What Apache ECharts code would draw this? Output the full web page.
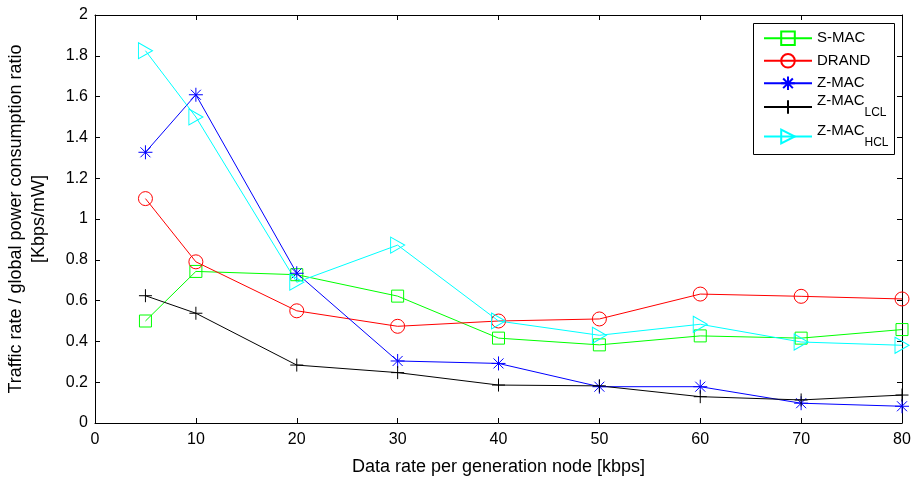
<!DOCTYPE html>
<html>
<head>
<meta charset="utf-8">
<script src="https://cdn.jsdelivr.net/npm/echarts@6/dist/echarts.min.js"></script>
<style>
  html, body { margin: 0; padding: 0; background: #fff; }
  #chart { width: 916px; height: 477px; }
</style>
</head>
<body>
<div id="chart"></div>
<script>
// Data rate per generation node [kbps]
const rates = [5, 10, 20, 30, 40, 50, 60, 70, 80];

// Traffic rate / global power consumption ratio [Kbps/mW]
const sMac    = [0.50, 0.743, 0.727, 0.622, 0.416, 0.383, 0.427, 0.416, 0.458];
const drand   = [1.10, 0.790, 0.550, 0.474, 0.500, 0.510, 0.632, 0.621, 0.608];
const zMac    = [1.327, 1.609, 0.734, 0.304, 0.292, 0.178, 0.178, 0.097, 0.082];
const zMacLcl = [0.624, 0.538, 0.284, 0.247, 0.186, 0.182, 0.129, 0.113, 0.137];
const zMacHcl = [1.825, 1.500, 0.690, 0.872, 0.500, 0.430, 0.484, 0.397, 0.381];

const seriesNames = ['S-MAC', 'DRAND', 'Z-MAC', 'Z-MAC LCL', 'Z-MAC HCL'];
const xTicks = [0, 10, 20, 30, 40, 50, 60, 70, 80];

const FONT = '"Liberation Sans", Arial, sans-serif';

function pairs(values) {
  return rates.map((r, i) => [r, values[i]]);
}

function lineSeries(name, values, color, symbol, size) {
  return {
    name: name,
    type: 'line',
    data: pairs(values),
    symbol: symbol,
    symbolSize: size,
    showAllSymbol: true,
    lineStyle: { color: color, width: 1 },
    itemStyle: { color: 'none', borderColor: color, borderWidth: 1 },
    emphasis: { disabled: true },
    animation: false,
    z: 3
  };
}

const asteriskPath = 'path://M7 0 L7 14 M0 7 L14 7 M2 2 L12 12 M12 2 L2 12';
const plusPath = 'path://M6 0 L6 12 M0 6 L12 6';
const rightTriPath = 'path://M0 0 L13 8 L0 16 Z';

const series = [
  lineSeries(seriesNames[0], sMac, '#00ff00', 'rect', 12),
  lineSeries(seriesNames[1], drand, '#ff0000', 'circle', 14),
  lineSeries(seriesNames[2], zMac, '#0000ff', asteriskPath, 14),
  lineSeries(seriesNames[3], zMacLcl, '#000000', plusPath, 13),
  lineSeries(seriesNames[4], zMacHcl, '#00ffff', rightTriPath, [14, 16])
];

// one legend block per entry so the rows can be spaced like the boxed key
const legendRows = [29, 51.5, 74, 93.5, 123];
const legends = seriesNames.map((name, i) => ({
  data: [name],
  left: 763,
  top: legendRows[i],
  padding: 0,
  orient: 'vertical',
  itemWidth: 48,
  itemHeight: 17,
  itemGap: 0,
  selectedMode: false,
  z: 20,
  textStyle: {
    fontFamily: FONT,
    fontSize: 15,
    color: '#000',
    rich: {
      m: { fontFamily: FONT, fontSize: 15, color: '#000', lineHeight: 17 },
      mb: { fontFamily: FONT, fontSize: 15, color: '#000', lineHeight: 17, padding: [0, 0, 12, 0] },
      s: { fontFamily: FONT, fontSize: 12, color: '#000', lineHeight: 17, padding: [12, 0, 0, 0] }
    }
  },
  formatter: function (n) {
    const parts = n.split(' ');
    if (parts.length === 2) return '{mb|' + parts[0] + '}{s|' + parts[1] + '}';
    return '{m|' + n + '}';
  }
}));

const axisCommon = {
  axisLine: { show: true, onZero: false, lineStyle: { color: '#000', width: 1 } },
  axisTick: { show: true, inside: true, length: 5, lineStyle: { color: '#000', width: 1 } },
  splitLine: { show: false }
};

const option = {
  backgroundColor: '#fff',
  animation: false,
  grid: { left: 95, right: 14, top: 15, bottom: 54, containLabel: false, outerBoundsMode: 'none' },
  legend: legends,
  xAxis: [
    Object.assign({
      type: 'value', position: 'bottom', min: 0, max: 80, interval: 10,
      name: 'Data rate per generation node [kbps]',
      nameLocation: 'middle', nameGap: 35,
      nameTextStyle: { fontFamily: FONT, fontSize: 18, color: '#000' },
      axisLabel: {
        fontFamily: FONT, fontSize: 16, color: '#000', margin: 9,
        formatter: function (v) { return xTicks.indexOf(v) >= 0 ? String(v) : ''; }
      }
    }, axisCommon),
    Object.assign({
      type: 'value', position: 'top', min: 0, max: 80, interval: 10,
      axisLabel: { show: false }
    }, axisCommon)
  ],
  yAxis: [
    Object.assign({
      type: 'value', position: 'left', min: 0, max: 2, interval: 0.2,
      name: 'Traffic rate / global power consumption ratio\n[Kbps/mW]',
      nameLocation: 'middle', nameGap: 44, nameRotate: 90,
      nameTextStyle: { fontFamily: FONT, fontSize: 18, color: '#000', lineHeight: 23, align: 'center' },
      axisLabel: { fontFamily: FONT, fontSize: 16, color: '#000', margin: 7 }
    }, axisCommon),
    Object.assign({
      type: 'value', position: 'right', min: 0, max: 2, interval: 0.2,
      axisLabel: { show: false }
    }, axisCommon)
  ],
  graphic: [{
    type: 'rect',
    z: 10,
    shape: { x: 753.5, y: 23.5, width: 141, height: 131 },
    style: { fill: '#fff', stroke: '#000', lineWidth: 1 }
  }],
  series: series
};

const chart = echarts.init(document.getElementById('chart'), null, { renderer: 'canvas' });
chart.setOption(option);
</script>
</body>
</html>
